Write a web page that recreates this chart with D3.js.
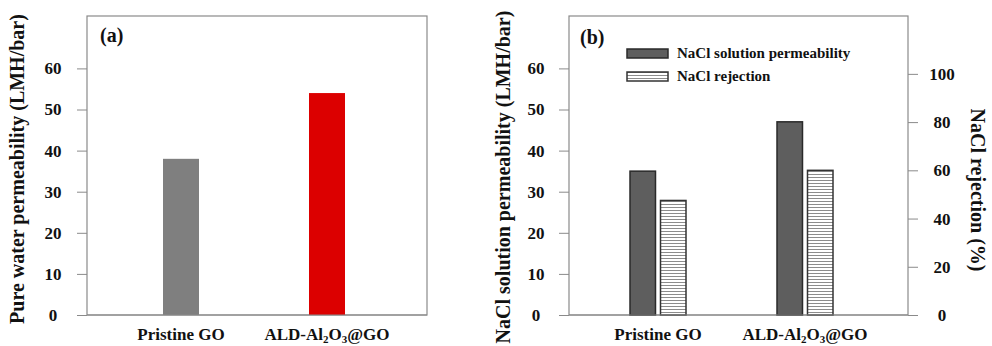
<!DOCTYPE html>
<html>
<head>
<meta charset="utf-8">
<script src="https://cdn.jsdelivr.net/npm/d3@7"></script>
<style>
  html, body { margin: 0; padding: 0; background: #fff; }
  svg { display: block; }
  text { font-family: "Liberation Serif", "Times New Roman", serif; font-weight: bold; fill: #111; }
</style>
</head>
<body>
<svg id="chart" width="992" height="346"></svg>
<script>
// ---- data ----
const categories = ["Pristine GO", "ALD-Al2O3@GO"];
const pureWaterPermeability = [38, 54];
const naclPermeability = [35, 47];
const naclRejection = [47.5, 60];
const leftTicks = [0, 10, 20, 30, 40, 50, 60];
const rightTicks = [0, 20, 40, 60, 80, 100];
const seriesNames = ["NaCl solution permeability", "NaCl rejection"];

const svg = d3.select("#chart");
const frameColor = "#8a8a8a";

// pattern for hatched bars
const defs = svg.append("defs");
const pat = defs.append("pattern")
  .attr("id", "hlines").attr("patternUnits", "userSpaceOnUse")
  .attr("width", 6).attr("height", 3);
pat.append("rect").attr("width", 6).attr("height", 3).attr("fill", "#fff");
pat.append("rect").attr("y", 0).attr("width", 6).attr("height", 1).attr("fill", "#8c8c8c");

function categoryLabel(sel, text) {
  if (text === "ALD-Al2O3@GO") {
    sel.append("tspan").text("ALD-Al");
    sel.append("tspan").text("2").attr("font-size", "11px").attr("dy", 3);
    sel.append("tspan").text("O").attr("dy", -3);
    sel.append("tspan").text("3").attr("font-size", "11px").attr("dy", 3);
    sel.append("tspan").text("@GO").attr("dy", -3);
  } else {
    sel.text(text);
  }
}

function styleAxis(g) {
  g.attr("font-family", null).attr("font-size", null);
  g.select(".domain").remove();
  g.selectAll(".tick line").attr("stroke", frameColor);
  g.selectAll(".tick text").attr("font-size", "17px")
    .attr("font-weight", "bold").attr("fill", "#111");
}

// ================= Panel (a) =================
const A = { left: 87, right: 427, top: 16, bottom: 315 };
const yA = d3.scaleLinear().domain([0, 72.75]).range([A.bottom, A.top]);
const xA = d3.scaleBand().domain(categories).range([108, 400]);
const barWA = 36;

const gA = svg.append("g");
gA.append("rect").attr("x", A.left).attr("y", A.top)
  .attr("width", A.right - A.left).attr("height", A.bottom - A.top)
  .attr("fill", "none").attr("stroke", frameColor).attr("stroke-width", 1.2);

gA.selectAll("rect.bar").data(categories).enter().append("rect")
  .attr("class", "bar")
  .attr("x", d => xA(d) + xA.bandwidth() / 2 - barWA / 2)
  .attr("width", barWA)
  .attr("y", (d, i) => yA(pureWaterPermeability[i]))
  .attr("height", (d, i) => yA(0) - yA(pureWaterPermeability[i]))
  .attr("fill", (d, i) => i === 0 ? "#7f7f7f" : "#dc0000");

const axA = gA.append("g").attr("transform", `translate(${A.left},0)`)
  .call(d3.axisLeft(yA).tickValues(leftTicks).tickSize(10).tickPadding(0));
styleAxis(axA);
axA.selectAll(".tick text").attr("text-anchor", "middle").attr("x", -34);

gA.append("line").attr("x1", A.left).attr("x2", A.right)
  .attr("y1", A.bottom).attr("y2", A.bottom).attr("stroke", frameColor).attr("stroke-width", 1.2);

gA.selectAll("text.xl").data(categories).enter().append("text")
  .attr("class", "xl").attr("font-size", "17px").attr("text-anchor", "middle")
  .attr("x", d => xA(d) + xA.bandwidth() / 2).attr("y", 340)
  .each(function(d) { categoryLabel(d3.select(this), d); });

gA.append("text").attr("font-size", "20px").attr("x", 100).attr("y", 42).text("(a)");

gA.append("text").attr("font-size", "20px").attr("text-anchor", "middle")
  .attr("transform", "translate(24,169) rotate(-90)")
  .text("Pure water permeability (LMH/bar)");

// ================= Panel (b) =================
const B = { left: 569, right: 908, top: 16, bottom: 315 };
const yB = d3.scaleLinear().domain([0, 72.75]).range([B.bottom, B.top]);
const yR = d3.scaleLinear().domain([0, 124]).range([B.bottom, B.top]);
const xB = d3.scaleBand().domain(categories).range([584.5, 878.5]);
const xSub = d3.scaleBand().domain(seriesNames).range([-28, 28]).paddingInner(0.164);

const gB = svg.append("g");
gB.append("rect").attr("x", B.left).attr("y", B.top)
  .attr("width", B.right - B.left).attr("height", B.bottom - B.top)
  .attr("fill", "none").attr("stroke", frameColor).attr("stroke-width", 1.2);

const groups = gB.selectAll("g.grp").data(categories).enter().append("g")
  .attr("class", "grp")
  .attr("transform", d => `translate(${xB(d) + xB.bandwidth() / 2},0)`);

groups.append("rect")
  .attr("x", xSub(seriesNames[0])).attr("width", xSub.bandwidth())
  .attr("y", (d, i) => yB(naclPermeability[i]))
  .attr("height", (d, i) => yB(0) - yB(naclPermeability[i]))
  .attr("fill", "#5e5e5e").attr("stroke", "#2a2a2a").attr("stroke-width", 1.5);

groups.append("rect")
  .attr("x", xSub(seriesNames[1])).attr("width", xSub.bandwidth())
  .attr("y", (d, i) => yR(naclRejection[i]))
  .attr("height", (d, i) => yR(0) - yR(naclRejection[i]))
  .attr("fill", "url(#hlines)").attr("stroke", "#333").attr("stroke-width", 1.5);

const axBL = gB.append("g").attr("transform", `translate(${B.left},0)`)
  .call(d3.axisLeft(yB).tickValues(leftTicks).tickSize(10).tickPadding(0));
styleAxis(axBL);
axBL.selectAll(".tick text").attr("text-anchor", "middle").attr("x", -33);

const axBR = gB.append("g").attr("transform", `translate(${B.right},0)`)
  .call(d3.axisRight(yR).tickValues(rightTicks).tickSize(10).tickPadding(0));
styleAxis(axBR);
axBR.selectAll(".tick text").attr("text-anchor", "middle").attr("x", 34);

gB.append("line").attr("x1", B.left).attr("x2", B.right)
  .attr("y1", B.bottom).attr("y2", B.bottom).attr("stroke", frameColor).attr("stroke-width", 1.2);

gB.selectAll("text.xl").data(categories).enter().append("text")
  .attr("class", "xl").attr("font-size", "17px").attr("text-anchor", "middle")
  .attr("x", d => xB(d) + xB.bandwidth() / 2).attr("y", 340)
  .each(function(d) { categoryLabel(d3.select(this), d); });

gB.append("text").attr("font-size", "20px").attr("x", 580).attr("y", 44).text("(b)");

// legend
const legend = gB.append("g");
const legY = [49, 72];
seriesNames.forEach((name, i) => {
  legend.append("rect").attr("x", 627).attr("y", legY[i]).attr("width", 41).attr("height", 9)
    .attr("fill", i === 0 ? "#5e5e5e" : "url(#hlines)")
    .attr("stroke", i === 0 ? "#2a2a2a" : "#333").attr("stroke-width", 1.5);
  legend.append("text").attr("font-size", "15px").attr("x", 677).attr("y", legY[i] + 9)
    .text(name);
});

gB.append("text").attr("font-size", "20px").attr("text-anchor", "middle")
  .attr("transform", "translate(510,177) rotate(-90)")
  .text("NaCl solution permeability (LMH/bar)");

gB.append("text").attr("font-size", "20px").attr("text-anchor", "middle")
  .attr("transform", "translate(971,190) rotate(90)")
  .text("NaCl rejection (%)");
</script>
</body>
</html>
